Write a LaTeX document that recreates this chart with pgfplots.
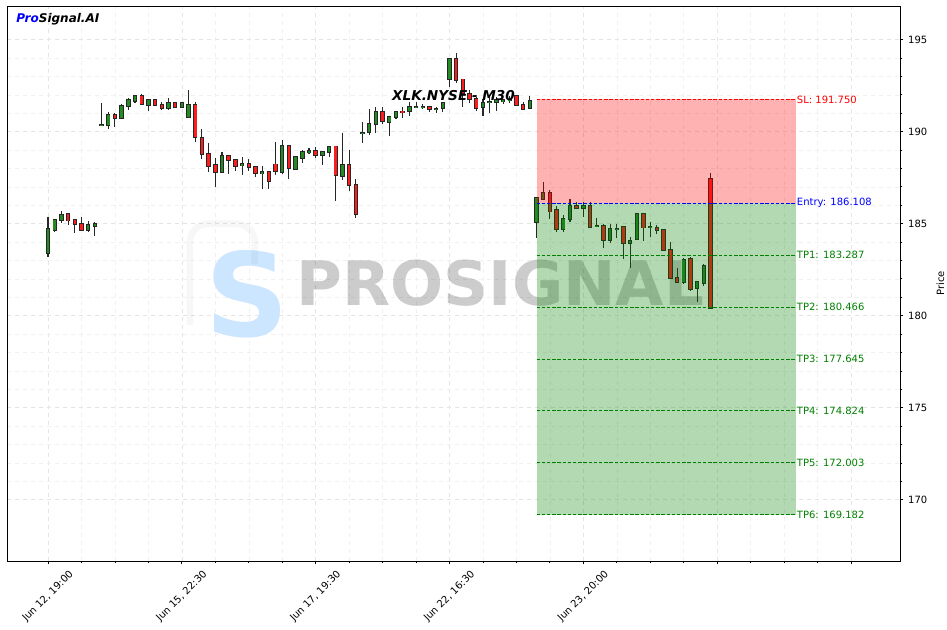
\documentclass[border=0pt]{standalone}
\usepackage{fontspec}
\setmainfont{DejaVu Sans}
\usepackage{pgfplots}
\pgfplotsset{compat=1.18}
\usepackage{pgfplotstable}

\definecolor{upgreen}{RGB}{34,139,34}
\definecolor{downred}{RGB}{255,28,28}
\definecolor{tpgreen}{RGB}{0,128,0}
\definecolor{logoblue}{RGB}{204,230,255}

% XLK.NYSE M30 candles: index, open, high, low, close
\pgfplotstableread{
i  o      h      l      c
0  183.43 185.35 183.21 184.70
1  184.68 185.26 184.53 185.18
2  185.22 185.67 185.02 185.45
3  185.53 185.60 184.93 185.17
4  185.18 185.26 184.48 184.97
5  184.97 185.35 184.61 184.68
6  184.64 185.17 184.57 184.92
7  184.86 185.08 184.33 184.98
8  190.34 191.56 190.32 190.36
9  190.34 191.05 190.16 190.89
10 190.89 191.01 190.23 190.76
11 190.72 191.48 190.68 191.39
12 191.37 191.81 191.16 191.72
13 191.68 192.01 191.57 191.94
14 191.92 192.03 191.43 191.52
15 191.47 191.70 191.10 191.70
16 191.70 191.74 191.39 191.43
17 191.43 191.59 191.16 191.30
18 191.30 191.81 191.18 191.54
19 191.54 191.59 191.27 191.36
20 191.36 191.63 191.30 191.54
21 190.81 192.26 190.81 191.43
22 191.43 191.59 189.45 189.69
23 189.64 190.13 188.52 188.77
24 188.77 189.40 187.79 188.12
25 188.17 188.55 186.98 187.79
26 187.79 188.88 187.79 188.66
27 188.66 188.70 187.68 188.44
28 188.44 188.52 187.86 188.15
29 188.17 188.61 187.65 188.26
30 188.26 188.50 187.86 188.06
31 188.08 188.15 187.56 187.74
32 187.74 188.15 186.87 187.79
33 187.79 187.84 186.87 187.30
34 188.22 189.42 187.65 187.84
35 187.79 189.53 187.68 189.20
36 189.20 189.20 187.41 188.01
37 187.95 188.63 187.93 188.61
38 188.55 189.00 188.32 188.88
39 188.88 189.11 188.77 188.93
40 188.93 189.15 188.57 188.72
41 188.72 188.95 188.19 188.88
42 188.88 189.24 188.61 189.15
43 189.20 189.20 186.22 187.63
44 187.61 189.91 187.38 188.17
45 188.17 189.01 186.80 187.09
46 187.09 187.41 185.29 185.51
47 189.91 190.51 189.37 189.93
48 189.96 191.21 189.82 190.40
49 190.42 191.32 189.93 191.05
50 191.05 191.32 190.44 190.56
51 190.51 190.87 189.75 190.78
52 190.78 191.14 190.69 191.05
53 191.10 191.36 190.76 191.05
54 191.10 191.60 190.83 191.32
55 191.32 191.60 191.27 191.34
56 191.34 191.50 191.25 191.36
57 191.36 191.39 191.05 191.21
58 191.23 191.36 191.01 191.25
59 191.27 191.63 191.05 191.54
60 192.84 193.98 192.45 193.93
61 193.93 194.26 192.63 192.81
62 192.84 192.84 191.36 192.08
63 192.04 192.25 191.55 191.77
64 191.76 191.90 191.12 191.27
65 191.32 191.76 190.85 191.54
66 191.59 191.90 191.00 191.61
67 191.59 191.90 191.14 191.72
68 191.68 191.77 191.50 191.70
69 191.72 191.95 191.55 191.75
70 191.92 191.99 191.39 191.45
71 191.43 191.63 191.18 191.21
72 191.27 191.96 191.21 191.68
73 185.11 186.38 184.21 186.38
74 186.32 187.25 186.29 186.65
75 186.65 186.83 185.24 185.66
76 185.75 185.98 184.53 184.70
77 184.70 185.48 184.57 185.24
78 185.24 186.34 185.11 185.98
79 185.98 186.20 185.80 185.84
80 185.84 186.20 185.35 185.98
81 185.98 186.20 184.84 184.84
82 184.87 185.33 184.81 184.90
83 184.90 184.97 183.67 184.10
84 184.10 184.97 183.94 184.70
85 184.70 184.97 184.21 184.72
86 184.84 184.88 183.09 183.94
87 183.94 184.30 182.58 184.08
88 184.15 185.57 184.12 185.51
89 185.51 185.60 184.06 184.79
90 184.79 185.08 184.25 184.82
91 184.75 184.93 184.44 184.64
92 184.64 184.64 183.49 183.56
93 183.56 183.99 181.98 182.04
94 182.04 182.58 181.77 181.82
95 181.82 183.16 181.71 183.01
96 183.07 183.18 181.37 181.44
97 181.50 181.82 180.75 181.82
98 181.80 182.80 181.62 182.71
99 187.43 187.74 180.36 180.41
}\candles

\begin{document}
\begin{tikzpicture}
\begin{axis}[
    at={(0,0)}, anchor=south west,
    scale only axis, width=669.75pt, height=416.25pt,
    xmin=-6.13, xmax=127.32, ymin=166.67, ymax=196.83,
    xtick={0,20,...,120},
    xticklabels={{Jun 12, 19:00},{Jun 15, 22:30},{Jun 17, 19:30},{Jun 22, 16:30},{Jun 23, 20:00},{},{}},
    minor x tick num=3,
    ytick={170,175,...,195},
    minor y tick num=4,
    xtick pos=lower, ytick pos=right, yticklabel pos=right,
    tick align=outside,
    major tick length=2.6pt, minor tick length=1.5pt,
    tick style={black, line width=0.6pt},
    grid=both,
    major grid style={gray!20, dashed, line width=0.4pt},
    minor grid style={gray!12, dashed, line width=0.4pt},
    axis line style={line width=0.6pt},
    ticklabel style={font=\fontsize{7.5}{9}\selectfont},
    /pgf/number format/assume math mode=true,
    xticklabel style={yshift=-24pt, rotate=45, anchor=center},
    ylabel={Price},
    ylabel style={font=\fontsize{7.5}{9}\selectfont},
    candle/.style={draw=none, fill=none, mark=none, forget plot,
        error bars/y dir=both, error bars/y explicit, error bars/error mark=none},
]

% watermark
\node[font=\bfseries\fontsize{87}{88}\selectfont, text=logoblue] at (axis cs:29.8,181.15) {S};
\draw[line width=5pt, black, opacity=0.03, rounded corners=14pt]
    (axis cs:21.2,179.5) -- (axis cs:21.2,185.0) -- (axis cs:30.9,185.0) -- (axis cs:30.9,182.8);
\node[font=\bfseries\fontsize{46}{47}\selectfont, text=black, text opacity=0.2, xscale=1.02] at (axis cs:67.6,181.78) {PROSIGNAL};

% wicks
\addplot[candle, error bars/error bar style={draw=black!85, line width=0.8pt}]
    table[x=i, y expr={(\thisrow{h}+\thisrow{l})/2}, y error expr={(\thisrow{h}-\thisrow{l})/2}] {\candles};
% body outlines
\addplot[candle, error bars/error bar style={draw=black!85, line width=3.3pt}]
    table[x=i, y expr={(\thisrow{o}+\thisrow{c})/2}, y error expr={abs(\thisrow{o}-\thisrow{c})/2+0.05}] {\candles};
% rising bodies
\addplot[candle, restrict expr to domain={\thisrow{c}-\thisrow{o}}{0:100},
    error bars/error bar style={draw=upgreen, line width=1.9pt}]
    table[x=i, y expr={(\thisrow{o}+\thisrow{c})/2}, y error expr={abs(\thisrow{o}-\thisrow{c})/2}] {\candles};
% falling bodies
\addplot[candle, restrict expr to domain={\thisrow{c}-\thisrow{o}}{-100:-0.0001},
    error bars/error bar style={draw=downred, line width=1.9pt}]
    table[x=i, y expr={(\thisrow{o}+\thisrow{c})/2}, y error expr={abs(\thisrow{o}-\thisrow{c})/2}] {\candles};

% risk / reward zones
\fill[red, fill opacity=0.3] (axis cs:73,186.108) rectangle (axis cs:111.8,191.75);
\fill[tpgreen, fill opacity=0.3] (axis cs:73,169.182) rectangle (axis cs:111.8,186.108);

\pgfplotsset{lvl/.style={forget plot, line width=0.7pt, dash pattern=on 2.6pt off 1.3pt}}
\addplot[lvl, red] coordinates {(73,191.75) (111.8,191.75)};
\addplot[lvl, blue] coordinates {(73,186.108) (111.8,186.108)};
\addplot[lvl, tpgreen] coordinates {(73,183.287) (111.8,183.287)};
\addplot[lvl, tpgreen] coordinates {(73,180.466) (111.8,180.466)};
\addplot[lvl, tpgreen] coordinates {(73,177.645) (111.8,177.645)};
\addplot[lvl, tpgreen] coordinates {(73,174.824) (111.8,174.824)};
\addplot[lvl, tpgreen] coordinates {(73,172.003) (111.8,172.003)};
\addplot[lvl, tpgreen] coordinates {(73,169.182) (111.8,169.182)};

\tikzset{lbl/.style={anchor=west, inner sep=0.4pt, font=\fontsize{7.5}{9}\selectfont}}
\node[lbl, text=red] at (axis cs:111.8,191.75) {SL: 191.750};
\node[lbl, text=blue] at (axis cs:111.8,186.108) {Entry: 186.108};
\node[lbl, text=tpgreen] at (axis cs:111.8,183.287) {TP1: 183.287};
\node[lbl, text=tpgreen] at (axis cs:111.8,180.466) {TP2: 180.466};
\node[lbl, text=tpgreen] at (axis cs:111.8,177.645) {TP3: 177.645};
\node[lbl, text=tpgreen] at (axis cs:111.8,174.824) {TP4: 174.824};
\node[lbl, text=tpgreen] at (axis cs:111.8,172.003) {TP5: 172.003};
\node[lbl, text=tpgreen] at (axis cs:111.8,169.182) {TP6: 169.182};

\node[font=\bfseries\itshape\fontsize{10.2}{12}\selectfont] at (rel axis cs:0.5,0.838) {XLK.NYSE - M30};
\node[anchor=west, inner sep=0pt, font=\bfseries\itshape\fontsize{9}{11}\selectfont] at (rel axis cs:0.0101,0.977) {\textcolor{blue}{Pro}Signal.AI};
\end{axis}
\pgfresetboundingbox
\useasboundingbox (-5.25pt,-51pt) rectangle (705pt,420.75pt);
\end{tikzpicture}
\end{document}
